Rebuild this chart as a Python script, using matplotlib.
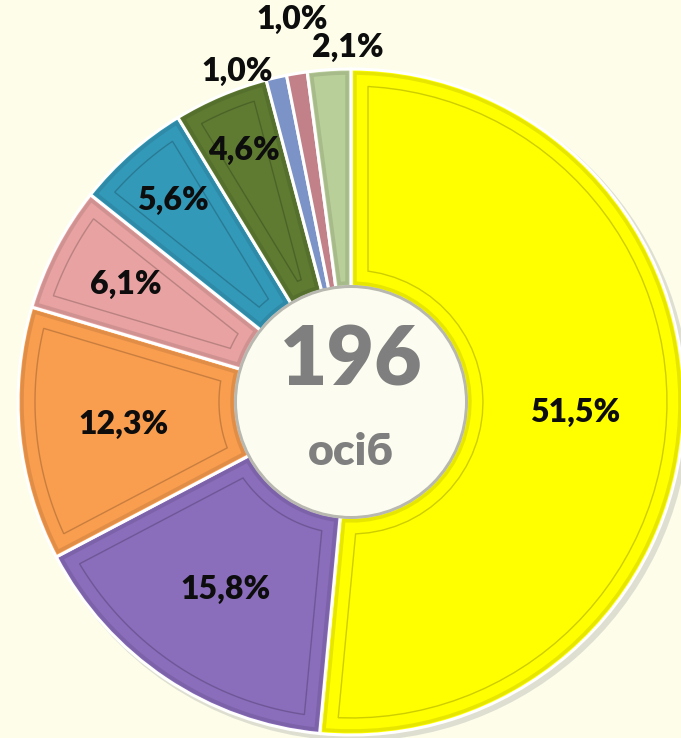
import numpy as np
import matplotlib
matplotlib.use("Agg")
import matplotlib.pyplot as plt
from matplotlib.patches import Circle, Polygon
import matplotlib.colors as mcolors

plt.rcParams['font.family'] = ['Lato', 'Open Sans', 'DejaVu Sans']

# data, clockwise from 12 o'clock
shares = [51.5, 15.8, 12.3, 6.1, 5.6, 4.6, 1.0, 1.0, 2.1]
labels = ['51,5%', '15,8%', '12,3%', '6,1%', '5,6%', '4,6%', '1,0%', '1,0%', '2,1%']
colors = ['#FFFF00', '#8A6DBB', '#F99D4F', '#E7A2A1', '#3399B9',
          '#5F7B32', '#7C93C8', '#C28189', '#B9CF99']
total = '196'
unit = 'осіб'

# layout (pixels of a 681x738 canvas)
W, H = 681, 738
cx, cy = 351, H - 402
R_out, R_in = 333, 115
label_r = [224, 226, 229, 254, 269, 273, 349, 387, 355]
label_dtheta = [0, 0, 0, 0, 0, 0, 6, -0.6, -3.3]
bg = '#FDFDEA'


def frame_poly(t1, t2, r_o, r_i, d):
    # inset frame whose sides stay parallel to the wedge sides
    ro, ri = r_o - d, r_i + d
    ao = np.degrees(np.arcsin(d / ro))
    ai = np.degrees(np.arcsin(d / ri))
    if t1 + ai >= t2 - ai:
        return None
    a_out = np.radians(np.linspace(t1 + ao, t2 - ao, 60))
    a_in = np.radians(np.linspace(t2 - ai, t1 + ai, 30))
    xs = np.concatenate([cx + ro * np.cos(a_out), cx + ri * np.cos(a_in)])
    ys = np.concatenate([cy + ro * np.sin(a_out), cy + ri * np.sin(a_in)])
    return np.column_stack([xs, ys])


fig = plt.figure(figsize=(W / 100, H / 100), dpi=100, facecolor=bg)
ax = fig.add_axes([0, 0, 1, 1])
ax.set_facecolor(bg)

# soft shadow
ax.pie(shares, radius=R_out + 2, center=(cx + 4, cy - 4), startangle=90,
       counterclock=False, colors=['#9a9a9a'] * len(shares),
       wedgeprops=dict(width=R_out - R_in, linewidth=0, alpha=0.3))

wedges, _ = ax.pie(shares, radius=R_out, center=(cx, cy), startangle=90,
                   counterclock=False, colors=colors,
                   wedgeprops=dict(width=R_out - R_in, edgecolor='white',
                                   linewidth=2.2))

for w, c in zip(wedges, colors):
    dark = np.array(mcolors.to_rgb(c)) * 0.72
    # darker rim along the outer edge
    pts = frame_poly(w.theta1, w.theta2, R_out, R_in, 4)
    if pts is not None:
        ax.add_patch(Polygon(pts, closed=True, facecolor='none',
                             edgecolor=dark, linewidth=2.5, alpha=0.35))
    pts = frame_poly(w.theta1, w.theta2, R_out, R_in, 17)
    if pts is not None:
        ax.add_patch(Polygon(pts, closed=True, facecolor='none',
                             edgecolor=dark, linewidth=1.0, alpha=0.7))

# centre hole
ax.add_patch(Circle((cx, cy), R_in + 2, facecolor='#b8b8b0', edgecolor='none'))
ax.add_patch(Circle((cx, cy), R_in - 1, facecolor='#FCFDF0', edgecolor='none'))

for w, txt, r, dt in zip(wedges, labels, label_r, label_dtheta):
    a = np.radians((w.theta1 + w.theta2) / 2 + dt)
    ax.text(cx + r * np.cos(a), cy + r * np.sin(a), txt, ha='center',
            va='center', fontsize=23, fontweight='heavy', color='#0d0d0d')

ax.text(cx, cy + 40, total, ha='center', va='center', fontsize=59,
        fontweight='heavy', color='#7f7f7f')
ax.text(cx, cy - 50, unit, ha='center', va='center', fontsize=32,
        fontweight='heavy', color='#7f7f7f')

ax.set_xlim(0, W)
ax.set_ylim(0, H)
ax.set_aspect('equal')
ax.axis('off')

fig.savefig('out.png', dpi=100, facecolor=bg)
